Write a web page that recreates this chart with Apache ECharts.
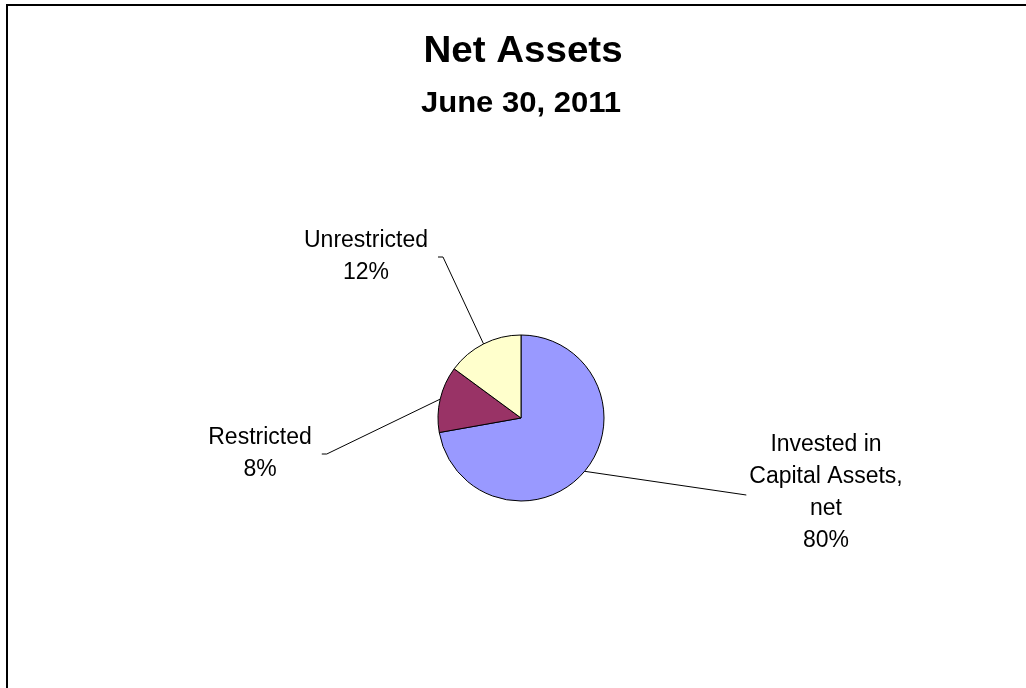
<!DOCTYPE html>
<html>
<head>
<meta charset="utf-8">
<title>Net Assets</title>
<script src="https://cdn.jsdelivr.net/npm/echarts@6/dist/echarts.min.js"></script>
<style>
  html, body { margin: 0; padding: 0; background: #fff; }
  #main { width: 1026px; height: 688px; }
</style>
</head>
<body>
<div id="main"></div>
<script>
// slice names (line breaks as in the label), clockwise from 12 o'clock
var categories = ['Invested in\nCapital Assets,\nnet', 'Restricted', 'Unrestricted']
// slice sizes
var values = [72.2, 12.9, 14.9]
// percentages printed in the labels
var labelPercents = [80, 8, 12]
var colors = ['#9999FF', '#993366', '#FFFFCC']

var font = 'Arial, "Liberation Sans", Helvetica, sans-serif'

var myChart = echarts.init(document.getElementById('main'))

// where each label box is centred (layout only)
var labelCenters = [[826, 493], [260, 454], [366, 257]]

myChart.setOption({
  animation: false,
  graphic: [
    {
      // chart frame, runs off the right and bottom edge
      type: 'rect',
      shape: { x: 7, y: 5, width: 1040, height: 700 },
      style: { fill: 'none', stroke: '#000', lineWidth: 2 }
    },
    {
      type: 'text',
      x: 523,
      y: 52,
      scaleX: 1.07,
      style: {
        text: 'Net Assets',
        font: 'bold 36px ' + font,
        fill: '#000',
        textAlign: 'center',
        textVerticalAlign: 'middle'
      }
    },
    {
      type: 'text',
      x: 521,
      y: 104,
      scaleX: 1.07,
      style: {
        text: 'June 30, 2011',
        font: 'bold 29px ' + font,
        fill: '#000',
        textAlign: 'center',
        textVerticalAlign: 'middle'
      }
    }
  ],
  series: [
    {
      type: 'pie',
      center: [521, 418],
      radius: 83,
      startAngle: 90,
      clockwise: true,
      avoidLabelOverlap: false,
      itemStyle: {
        borderColor: '#000',
        borderWidth: 1
      },
      label: {
        show: true,
        position: 'outside',
        color: '#000',
        fontFamily: font,
        fontSize: 23,
        lineHeight: 32,
        align: 'center',
        formatter: function (p) {
          return p.name + '\n' + labelPercents[p.dataIndex] + '%'
        }
      },
      labelLine: {
        show: true,
        length: 20,
        length2: 10,
        lineStyle: { color: '#000', width: 1 }
      },
      labelLayout: function (params) {
        var c = labelCenters[params.dataIndex]
        var w = params.labelRect.width
        var h = params.labelRect.height
        var edge = params.labelLinePoints ? params.labelLinePoints[0] : [521, 418]
        var pts
        if (c[0] < 521) {
          // left side: line ends with a short tick to the right of the label
          var r = c[0] + w / 2
          pts = [edge, [r + 15, c[1]], [r + 10, c[1]]]
        } else {
          var l = c[0] - w / 2
          pts = [edge, [l - 3, c[1] + 2]]
        }
        return {
          x: c[0],
          y: c[1] - h / 2,
          align: 'center',
          verticalAlign: 'top',
          labelLinePoints: pts
        }
      },
      emphasis: { disabled: true },
      data: categories.map(function (name, i) {
        return { name: name, value: values[i], itemStyle: { color: colors[i] } }
      })
    }
  ]
})
</script>
</body>
</html>
